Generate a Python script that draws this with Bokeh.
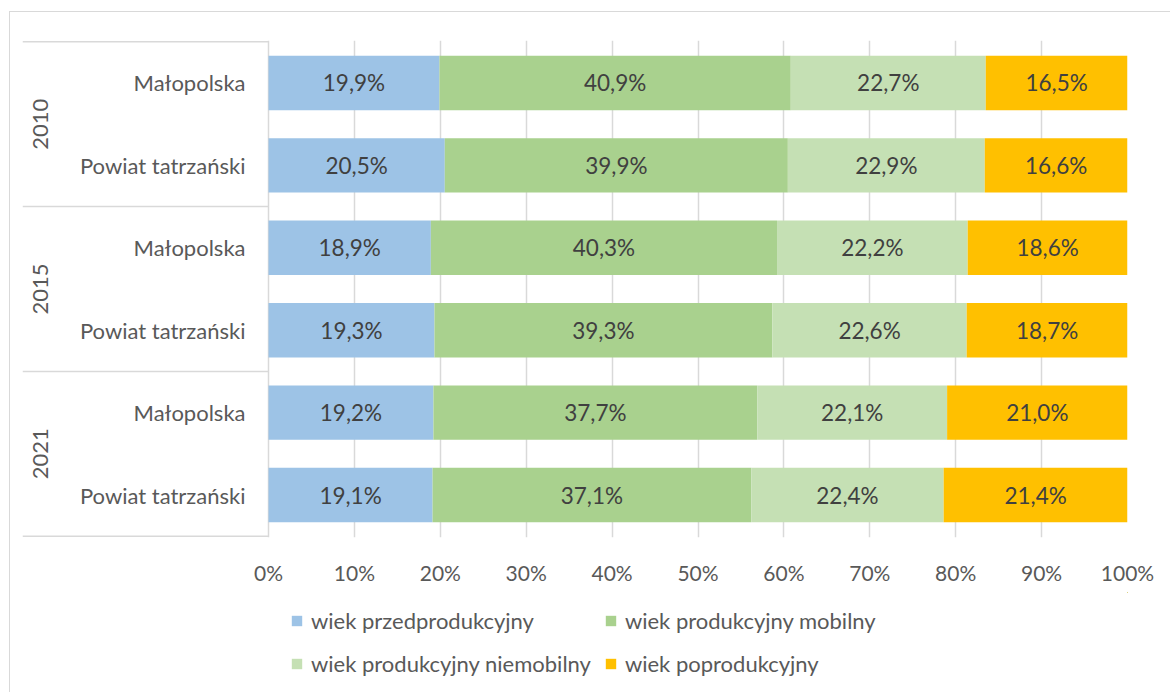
from bokeh.plotting import figure
from bokeh.models import (Range1d, FixedTicker, NumeralTickFormatter, ColumnDataSource,
                          Legend, LegendItem)
from bokeh.layouts import column
from bokeh.core.properties import value
from bokeh.embed import file_html
from bokeh.resources import INLINE

# ---- data ----
years = ["2010", "2010", "2015", "2015", "2021", "2021"]
regions = ["Małopolska", "Powiat tatrzański", "Małopolska", "Powiat tatrzański",
           "Małopolska", "Powiat tatrzański"]
series_names = ["wiek przedprodukcyjny", "wiek produkcyjny mobilny",
                "wiek produkcyjny niemobilny", "wiek poprodukcyjny"]
pre = [19.9, 20.5, 18.9, 19.3, 19.2, 19.1]
mob = [40.9, 39.9, 40.3, 39.3, 37.7, 37.1]
nmob = [22.7, 22.9, 22.2, 22.6, 22.1, 22.4]
post = [16.5, 16.6, 18.6, 18.7, 21.0, 21.4]
x_ticks = [0, 0.1, 0.2, 0.3, 0.4, 0.5, 0.6, 0.7, 0.8, 0.9, 1.0]

colors = ["#9DC3E6", "#A9D18E", "#C5E0B4", "#FFC000"]
FONT = "Lato"
n = len(regions)
series = [pre, mob, nmob, post]
totals = [sum(s[i] for s in series) for i in range(n)]
rows_y = [n - i - 0.5 for i in range(n)]

data = {"y": rows_y}
keys = ["s0", "s1", "s2", "s3"]
for k, s in zip(keys, series):
    data[k] = [s[i] / totals[i] for i in range(n)]
source = ColumnDataSource(data)

# geometry (canvas origin at page x=10, y=12)
W = 1160
H1, H2 = 580, 100
px_per_unit = 859.0
left_px = 246.0  # pixels left of 0%
x_min = -left_px / px_per_unit

p = figure(width=W, height=H1, output_backend="svg", toolbar_location=None,
           x_range=Range1d(x_min, 1.0), y_range=Range1d(-0.015, n + 0.015),
           y_axis_location=None, min_border_left=12, min_border_right=43,
           min_border_top=28, min_border_bottom=55)
p.outline_line_color = None
p.background_fill_color = "white"
p.border_fill_color = "white"

ticker = FixedTicker(ticks=x_ticks)
p.xaxis.ticker = ticker
p.xaxis.formatter = NumeralTickFormatter(format="0%")
p.xaxis.axis_line_color = None
p.xaxis.major_tick_line_color = None
p.xaxis.minor_tick_line_color = None
p.xaxis.major_tick_out = 0
p.xaxis.major_label_text_font = FONT
p.xaxis.major_label_text_font_size = "21px"
p.xaxis.major_label_text_color = "#595959"
p.xaxis.major_label_standoff = 22
p.xgrid.ticker = ticker
p.xgrid.grid_line_color = "#D9D9D9"
p.xgrid.grid_line_width = 1.5
p.ygrid.grid_line_color = None

renderers = p.hbar_stack(keys, y="y", height=0.66, color=colors, line_color=None,
                         source=source)

# value labels
for j, k in enumerate(keys):
    xs, txt = [], []
    for i in range(n):
        start = sum(data[kk][i] for kk in keys[:j])
        xs.append(start + data[k][i] / 2)
        txt.append(f"{series[j][i]:.1f}%".replace(".", ","))
    src = ColumnDataSource({"x": xs, "y": rows_y, "t": txt})
    p.text(x="x", y="y", text="t", source=src, text_align="center",
           text_baseline="middle", text_font=value(FONT), text_font_size="22.5px",
           text_color="#404040")

# category labels
lab_x = [-23.0 / px_per_unit] * n
p.text(x=lab_x, y=rows_y, text=regions, text_align="right", text_baseline="middle",
       text_font=value(FONT), text_font_size="22px", text_color="#595959")

group_years = []
group_y = []
for i, yv in enumerate(years):
    if yv not in group_years:
        group_years.append(yv)
        idx = [k for k in range(n) if years[k] == yv]
        group_y.append(sum(rows_y[k] for k in idx) / len(idx))
p.text(x=[-228.0 / px_per_unit] * len(group_years), y=group_y, text=group_years,
       angle=1.5708, text_align="center", text_baseline="middle",
       text_font=value(FONT), text_font_size="22px", text_color="#595959")

# separator lines for groups
bounds = [0.0]
for g in group_years:
    cnt = years.count(g)
    bounds.append(bounds[-1] + cnt)
p.segment(x0=[x_min] * len(bounds), x1=[0] * len(bounds), y0=bounds, y1=bounds,
          line_color="#D9D9D9", line_width=1.5)

# legend figure (its own copies of the series renderers, kept outside its view range)
p2 = figure(width=W, height=H2, output_backend="svg", toolbar_location=None,
            x_range=Range1d(-W - 10, -10), y_range=Range1d(-H2 - 10, -10),
            x_axis_location=None, y_axis_location=None,
            min_border_left=0, min_border_right=0, min_border_top=0, min_border_bottom=0)
p2.outline_line_color = None
p2.grid.visible = False
leg_renderers = p2.hbar_stack(keys, y="y", height=0.66, color=colors, line_color=None,
                              source=source)

legend = Legend(items=[LegendItem(label=series_names[j], renderers=[leg_renderers[j]])
                       for j in range(4)],
                orientation="horizontal", ncols=2, location=(268, 14),
                border_line_color=None, background_fill_alpha=0, padding=0, margin=0,
                spacing=13, label_standoff=8, glyph_width=13, glyph_height=13,
                label_height=30, label_text_font=FONT, label_text_font_size="22px",
                label_text_color="#595959")
p2.add_layout(legend, "center")

layout = column(p, p2, spacing=0,
                styles={"margin-left": "9px", "margin-top": "11px",
                        "border-top": "1px solid #D9D9D9", "border-left": "1px solid #D9D9D9"})

open("out.html", "w").write(file_html(layout, INLINE))
